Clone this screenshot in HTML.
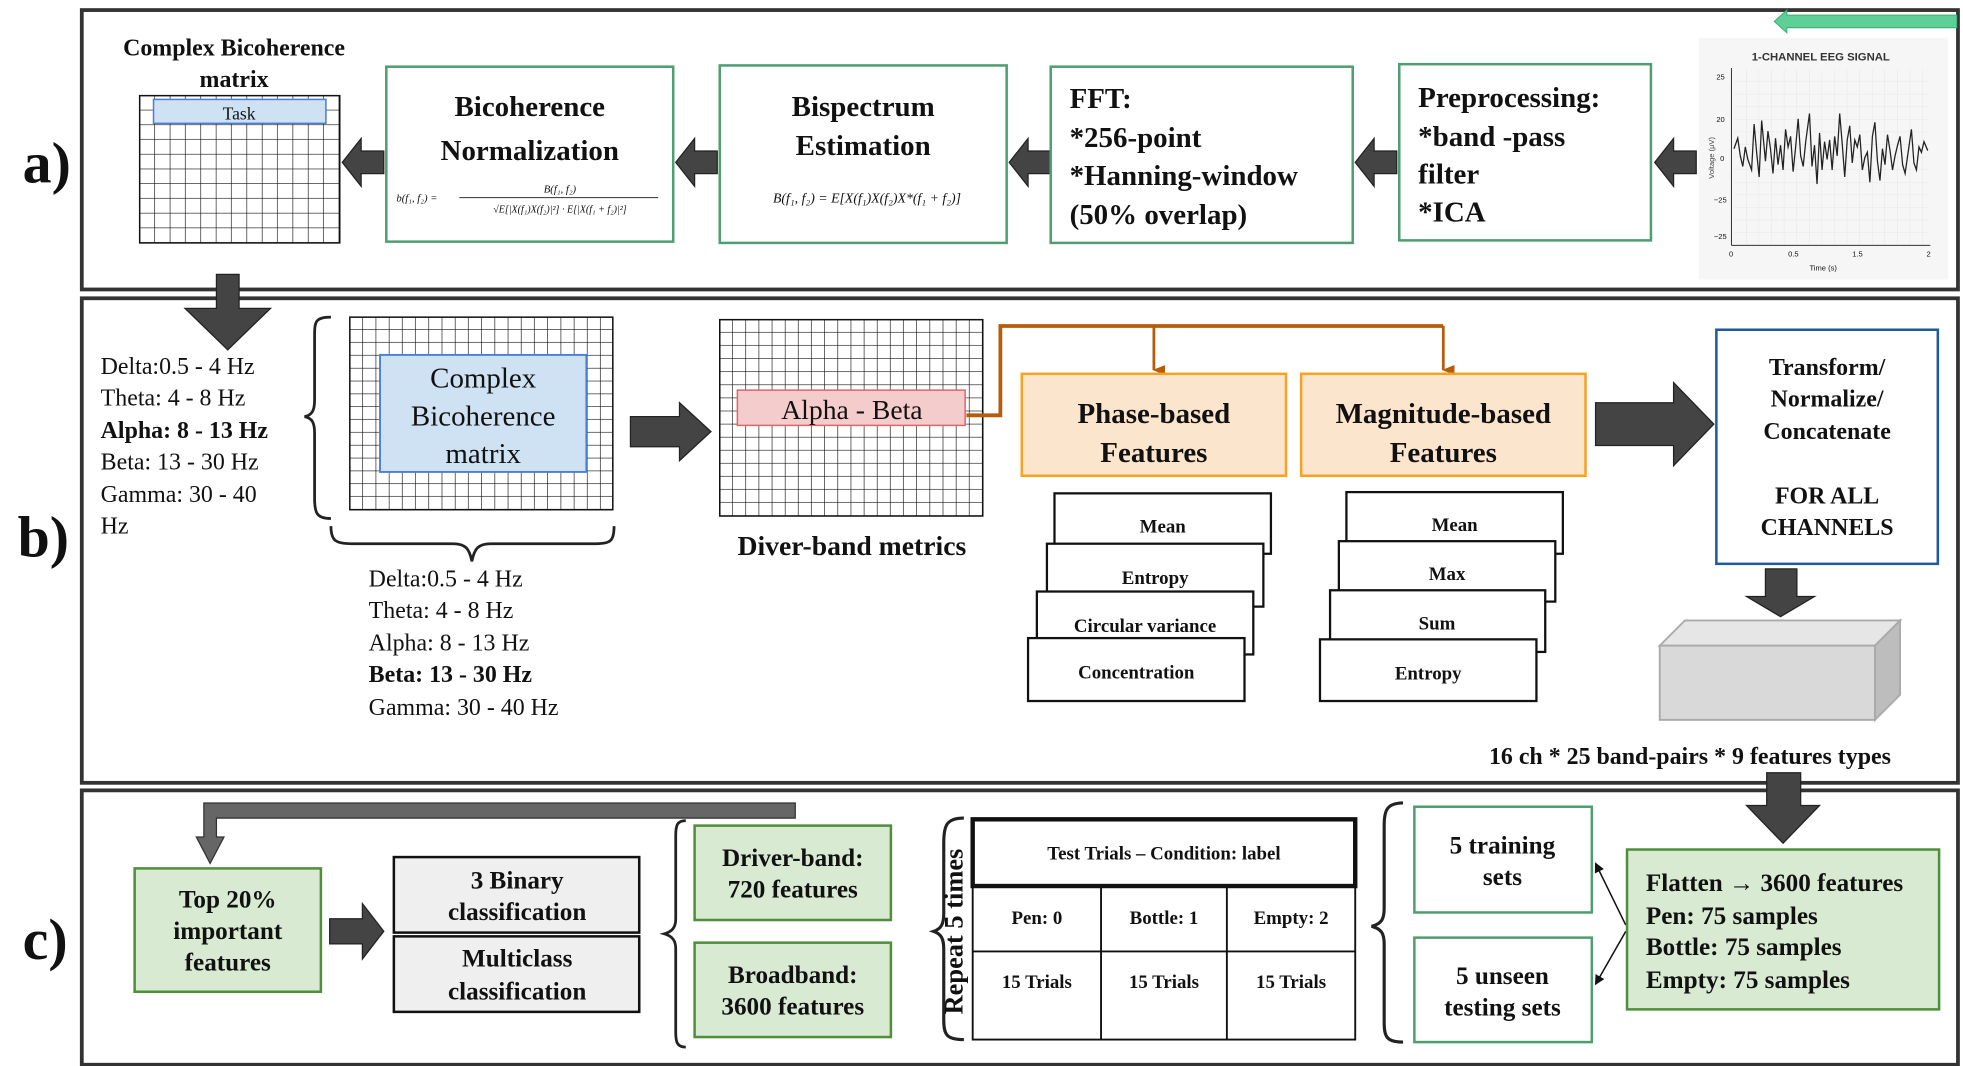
<!DOCTYPE html>
<html><head><meta charset="utf-8"><style>
html,body{margin:0;padding:0;background:#fff;width:1963px;height:1066px;overflow:hidden}
svg{display:block}
text{font-family:"Liberation Serif",serif;font-weight:bold;fill:#111}
.n, .n text{font-weight:normal}
.s, .s text{font-family:"Liberation Sans",sans-serif}
</style></head><body>
<svg width="1963" height="1066" viewBox="0 0 1560 847" preserveAspectRatio="none" xmlns="http://www.w3.org/2000/svg">
<defs>
<pattern id="g" x="111" y="76" width="12.2" height="11.7" patternUnits="userSpaceOnUse"><path d="M12.2 0V11.7M0 11.7H12.2" stroke="#111" stroke-width="1" fill="none"/></pattern>
<pattern id="g2" x="278" y="252" width="10.5" height="10.2" patternUnits="userSpaceOnUse"><path d="M10.5 0V10.2M0 10.2H10.5" stroke="#111" stroke-width="1" fill="none"/></pattern>
<pattern id="g3" x="572" y="254" width="10.45" height="10.4" patternUnits="userSpaceOnUse"><path d="M10.45 0V10.4M0 10.4H10.45" stroke="#111" stroke-width="1" fill="none"/></pattern>
<pattern id="eg" x="1378" y="55" width="10" height="10" patternUnits="userSpaceOnUse"><path d="M10 0V10M0 10H10" stroke="#e3e3e3" stroke-width="0.6" fill="none"/></pattern>
<marker id="oa" markerWidth="8" markerHeight="10" refX="4" refY="9" orient="auto" markerUnits="userSpaceOnUse"><path d="M0 0L8 0L4 10Z" fill="#b85c0a"/></marker>
<marker id="ba" markerWidth="8" markerHeight="8" refX="7" refY="4" orient="auto" markerUnits="userSpaceOnUse"><path d="M0 0L8 4L0 8Z" fill="#111"/></marker>
</defs>

<rect x="65" y="8" width="1491" height="222" fill="none" stroke="#333" stroke-width="3"/>
<rect x="65" y="237" width="1491" height="385" fill="none" stroke="#333" stroke-width="3"/>
<rect x="65" y="628" width="1491" height="218" fill="none" stroke="#333" stroke-width="3"/>
<text x="18" y="145" font-size="46">a)</text>
<text x="14" y="442" font-size="46">b)</text>
<text x="18" y="762" font-size="46">c)</text>

<text x="186" y="44" font-size="19" text-anchor="middle">Complex Bicoherence</text>
<text x="186" y="69" font-size="19" text-anchor="middle">matrix</text>
<rect x="111" y="76" width="159" height="117" fill="url(#g)" stroke="#111" stroke-width="1.2"/>
<rect x="122" y="79" width="137" height="19" fill="#cfe2f3" stroke="#4a7fd6" stroke-width="1.2"/>
<text x="190" y="95" font-size="14" class="n" text-anchor="middle">Task</text>

<g fill="#444" stroke="#222" stroke-width="1">
<path d="M305 120H287V110L272 129L287 148V138H305Z"/>
<path d="M570 120H552V110L537 129L552 148V138H570Z"/>
<path d="M835 120H817V110L802 129L817 148V138H835Z"/>
<path d="M1110 120H1092V110L1077 129L1092 148V138H1110Z"/>
<path d="M1348 120H1330V110L1315 129L1330 148V138H1348Z"/>
</g>
<path d="M1555 12H1420V8L1410 17L1420 26V22H1555Z" fill="#5ecf96" stroke="#3fae78" stroke-width="0.8"/>

<rect x="307" y="53" width="228" height="139" fill="#fff" stroke="#4f9e72" stroke-width="2"/>
<text x="421" y="92" font-size="23" text-anchor="middle">Bicoherence</text>
<text x="421" y="127" font-size="23" text-anchor="middle">Normalization</text>
<text x="315" y="160" font-size="8.5" class="n" font-style="italic">b(f₁, f₂) =</text>
<text x="445" y="153" font-size="8.5" class="n" font-style="italic" text-anchor="middle">B(f₁, f₂)</text>
<line x1="365" y1="157" x2="523" y2="157" stroke="#333" stroke-width="0.8"/>
<text x="445" y="169" font-size="8" class="n" font-style="italic" text-anchor="middle">√E[|X(f₁)X(f₂)|²] · E[|X(f₁ + f₂)|²]</text>

<rect x="572" y="52" width="228" height="141" fill="#fff" stroke="#4f9e72" stroke-width="2"/>
<text x="686" y="92" font-size="23" text-anchor="middle">Bispectrum</text>
<text x="686" y="123" font-size="23" text-anchor="middle">Estimation</text>
<text x="689" y="161" font-size="11" class="n" font-style="italic" text-anchor="middle">B(f₁, f₂) = E[X(f₁)X(f₂)X*(f₁ + f₂)]</text>

<rect x="835" y="53" width="240" height="140" fill="#fff" stroke="#4f9e72" stroke-width="2"/>
<g font-size="23"><text x="850" y="86">FFT:</text><text x="850" y="117">*256-point</text><text x="850" y="147">*Hanning-window</text><text x="850" y="178">(50% overlap)</text></g>

<rect x="1112" y="51" width="200" height="140" fill="#fff" stroke="#4f9e72" stroke-width="2"/>
<g font-size="23"><text x="1127" y="85">Preprocessing:</text><text x="1127" y="116">*band -pass</text><text x="1127" y="146">filter</text><text x="1127" y="176">*ICA</text></g>

<rect x="1350" y="30" width="198" height="192" fill="#f6f6f6"/>
<rect x="1378" y="55" width="155" height="140" fill="url(#eg)"/>
<text x="1447" y="48" font-size="9" class="s" text-anchor="middle" style="fill:#333">1-CHANNEL EEG SIGNAL</text>
<line x1="1376" y1="54" x2="1376" y2="195" stroke="#333" stroke-width="0.8"/>
<line x1="1376" y1="195" x2="1534" y2="195" stroke="#333" stroke-width="0.8"/>
<g font-size="6" class="s n" style="fill:#444"><text x="1364" y="63">25</text><text x="1364" y="97">20</text><text x="1367" y="128">0</text><text x="1362" y="161">−25</text><text x="1362" y="190">−25</text><text x="1374" y="204">0</text><text x="1421" y="204">0.5</text><text x="1472" y="204">1.5</text><text x="1531" y="204">2</text><text x="1438" y="215">Time (s)</text></g>
<text transform="translate(1362,142) rotate(-90)" font-size="6" class="s n" style="fill:#444">Voltage (μV)</text>
<polyline fill="none" stroke="#222" stroke-width="1" transform="translate(0,-47) scale(1,1.4)" points="1378,118 1381,112 1383,122 1385,128 1387,117 1389,124 1392,130 1394,104 1396,120 1398,134 1400,102 1403,125 1405,108 1407,118 1409,132 1411,112 1413,127 1415,116 1417,130 1419,107 1421,117 1423,111 1425,131 1427,117 1429,101 1431,122 1433,128 1435,114 1438,98 1440,128 1442,116 1444,138 1446,109 1448,130 1450,114 1452,124 1454,113 1456,130 1458,111 1460,122 1462,98 1464,115 1466,134 1468,113 1470,105 1472,126 1474,113 1476,117 1478,110 1480,130 1482,123 1484,120 1486,137 1488,111 1490,103 1492,125 1494,136 1496,118 1498,127 1500,110 1502,119 1504,130 1506,122 1508,116 1510,111 1512,127 1514,132 1516,122 1519,107 1521,126 1523,130 1525,117 1527,120 1529,114 1532,119"/>

<path d="M172 218H190V245H215L181 278L147 245H172Z" fill="#444" stroke="#222" stroke-width="1"/>

<g font-size="19" class="n"><text x="80" y="297">Delta:0.5 - 4 Hz</text><text x="80" y="322">Theta: 4 - 8 Hz</text><text x="80" y="348" style="font-weight:bold">Alpha: 8 - 13 Hz</text><text x="80" y="373">Beta: 13 - 30 Hz</text><text x="80" y="399">Gamma: 30 - 40</text><text x="80" y="424">Hz</text></g>
<path d="M263 252C250 252 250 256 250 268V318C250 326 248 330 242 331C248 332 250 336 250 344V396C250 408 252 412 263 412" fill="none" stroke="#222" stroke-width="2.2"/>
<rect x="278" y="252" width="209" height="153" fill="url(#g2)" stroke="#111" stroke-width="1.2"/>
<rect x="302" y="282" width="164" height="93" fill="#cfe2f3" stroke="#4a7fd6" stroke-width="1.5"/>
<g font-size="23" class="n" text-anchor="middle"><text x="384" y="308">Complex</text><text x="384" y="338">Bicoherence</text><text x="384" y="368">matrix</text></g>
<path d="M263 418C263 430 267 432 280 432H360C370 432 373 436 375 446C377 436 380 432 390 432H474C485 432 488 430 488 418" fill="none" stroke="#222" stroke-width="2.2"/>
<g font-size="19" class="n"><text x="293" y="466">Delta:0.5 - 4 Hz</text><text x="293" y="491">Theta: 4 - 8 Hz</text><text x="293" y="517">Alpha: 8 - 13 Hz</text><text x="293" y="542" style="font-weight:bold">Beta: 13 - 30 Hz</text><text x="293" y="568">Gamma: 30 - 40 Hz</text></g>

<path d="M501 331H540V320L565 343L540 366V355H501Z" fill="#444" stroke="#222" stroke-width="1"/>
<rect x="572" y="254" width="209" height="156" fill="url(#g3)" stroke="#111" stroke-width="1.2"/>
<rect x="586" y="310" width="181" height="28" fill="#f4cccc" stroke="#e06666" stroke-width="1.2"/>
<text x="677" y="333" font-size="22" class="n" text-anchor="middle">Alpha - Beta</text>
<text x="677" y="441" font-size="22" text-anchor="middle">Diver-band metrics</text>

<path d="M768 330H795V259H1147" fill="none" stroke="#b85c0a" stroke-width="3"/>
<line x1="917" y1="259" x2="917" y2="294" stroke="#b85c0a" stroke-width="2.2" marker-end="url(#oa)"/>
<line x1="1147" y1="259" x2="1147" y2="294" stroke="#b85c0a" stroke-width="2.2" marker-end="url(#oa)"/>

<rect x="812" y="297" width="210" height="81" fill="#fce5cd" stroke="#f6a323" stroke-width="2"/>
<text x="917" y="336" font-size="23" text-anchor="middle">Phase-based</text>
<text x="917" y="367" font-size="23" text-anchor="middle">Features</text>
<rect x="1034" y="297" width="226" height="81" fill="#fce5cd" stroke="#f6a323" stroke-width="2"/>
<text x="1147" y="336" font-size="23" text-anchor="middle">Magnitude-based</text>
<text x="1147" y="367" font-size="23" text-anchor="middle">Features</text>

<g fill="#fff" stroke="#111" stroke-width="1.8">
<rect x="838" y="392" width="172" height="48"/><rect x="832" y="432" width="172" height="50"/><rect x="824" y="470" width="172" height="50"/><rect x="817" y="507" width="172" height="50"/>
<rect x="1070" y="391" width="172" height="49"/><rect x="1064" y="430" width="172" height="48"/><rect x="1057" y="469" width="171" height="49"/><rect x="1049" y="508" width="172" height="49"/>
</g>
<g font-size="15" text-anchor="middle"><text x="924" y="423">Mean</text><text x="918" y="464">Entropy</text><text x="910" y="502">Circular variance</text><text x="903" y="539">Concentration</text>
<text x="1156" y="422">Mean</text><text x="1150" y="461">Max</text><text x="1142" y="500">Sum</text><text x="1135" y="540">Entropy</text></g>

<path d="M1268 320H1330V304L1362 337L1330 370V354H1268Z" fill="#444" stroke="#222" stroke-width="1"/>
<rect x="1364" y="262" width="176" height="186" fill="#fff" stroke="#1f5a9a" stroke-width="2"/>
<g font-size="19" text-anchor="middle"><text x="1452" y="298">Transform/</text><text x="1452" y="323">Normalize/</text><text x="1452" y="349">Concatenate</text><text x="1452" y="400">FOR ALL</text><text x="1452" y="425">CHANNELS</text></g>
<path d="M1403 452H1428V474H1442L1415 490L1388 474H1403Z" fill="#444" stroke="#222" stroke-width="1"/>
<path d="M1319 513L1339 493H1510L1490 513Z" fill="#e6e6e6" stroke="#aaa" stroke-width="1.5"/>
<path d="M1490 513L1510 493V552L1490 572Z" fill="#bdbdbd" stroke="#aaa" stroke-width="1.5"/>
<rect x="1319" y="513" width="171" height="59" fill="#d9d9d9" stroke="#aaa" stroke-width="1.5"/>
<text x="1343" y="607" font-size="19" text-anchor="middle">16 ch * 25 band-pairs * 9 features types</text>
<path d="M1404 614H1431V640H1446L1417 670L1388 640H1404Z" fill="#444" stroke="#222" stroke-width="1"/>

<path d="M632 638V650H172V665H178L167 686L156 665H162V638Z" fill="#666" stroke="#333" stroke-width="1"/>
<rect x="107" y="690" width="148" height="98" fill="#d9ead3" stroke="#4f8f3a" stroke-width="2"/>
<g font-size="20" text-anchor="middle"><text x="181" y="721">Top 20%</text><text x="181" y="746">important</text><text x="181" y="771">features</text></g>
<path d="M262 730H288V718L305 740L288 762V750H262Z" fill="#444" stroke="#222" stroke-width="1"/>
<rect x="313" y="681" width="195" height="60" fill="#efefef" stroke="#111" stroke-width="2"/>
<rect x="313" y="744" width="195" height="60" fill="#efefef" stroke="#111" stroke-width="2"/>
<g font-size="20" text-anchor="middle"><text x="411" y="706">3 Binary</text><text x="411" y="731">classification</text><text x="411" y="768">Multiclass</text><text x="411" y="794">classification</text></g>
<path d="M545 652C538 652 537 656 537 664V730C537 736 535 740 528 742C535 744 537 748 537 754V820C537 828 538 832 545 832" fill="none" stroke="#222" stroke-width="2.2"/>
<rect x="552" y="656" width="156" height="75" fill="#d9ead3" stroke="#4f8f3a" stroke-width="2"/>
<rect x="552" y="749" width="156" height="75" fill="#d9ead3" stroke="#4f8f3a" stroke-width="2"/>
<g font-size="20" text-anchor="middle"><text x="630" y="688">Driver-band:</text><text x="630" y="713">720 features</text><text x="630" y="781">Broadband:</text><text x="630" y="806">3600 features</text></g>
<path d="M766 650C752 650 750 656 750 670V726C750 734 748 738 742 740C748 742 750 746 750 754V810C750 822 752 826 766 826" fill="none" stroke="#222" stroke-width="2.5"/>
<text transform="translate(765,806) rotate(-90)" font-size="21">Repeat 5 times</text>
<rect x="773" y="651" width="304" height="175" fill="#fff" stroke="#111" stroke-width="1.5"/>
<rect x="773" y="651" width="304" height="53" fill="none" stroke="#111" stroke-width="3.5"/>
<line x1="773" y1="756" x2="1077" y2="756" stroke="#111" stroke-width="1.5"/>
<line x1="875" y1="704" x2="875" y2="826" stroke="#111" stroke-width="1.5"/>
<line x1="975" y1="704" x2="975" y2="826" stroke="#111" stroke-width="1.5"/>
<g font-size="15" text-anchor="middle"><text x="925" y="683">Test Trials – Condition: label</text>
<text x="824" y="734">Pen: 0</text><text x="925" y="734">Bottle: 1</text><text x="1026" y="734">Empty: 2</text>
<text x="824" y="785">15 Trials</text><text x="925" y="785">15 Trials</text><text x="1026" y="785">15 Trials</text></g>
<path d="M1115 638C1102 638 1100 644 1100 656V722C1100 730 1098 734 1090 736C1098 738 1100 742 1100 750V812C1100 824 1102 828 1115 828" fill="none" stroke="#222" stroke-width="2.5"/>
<rect x="1124" y="641" width="141" height="84" fill="#fff" stroke="#4f9e72" stroke-width="2"/>
<rect x="1124" y="745" width="141" height="83" fill="#fff" stroke="#4f9e72" stroke-width="2"/>
<g font-size="20" text-anchor="middle"><text x="1194" y="678">5 training</text><text x="1194" y="703">sets</text><text x="1194" y="782">5 unseen</text><text x="1194" y="807">testing sets</text></g>
<line x1="1292" y1="735" x2="1268" y2="686" stroke="#111" stroke-width="1.2" marker-end="url(#ba)"/>
<line x1="1292" y1="740" x2="1268" y2="782" stroke="#111" stroke-width="1.2" marker-end="url(#ba)"/>
<rect x="1293" y="675" width="248" height="127" fill="#d9ead3" stroke="#4f8f3a" stroke-width="2"/>
<g font-size="20"><text x="1308" y="708">Flatten → 3600 features</text><text x="1308" y="734">Pen: 75 samples</text><text x="1308" y="759">Bottle: 75 samples</text><text x="1308" y="785">Empty: 75 samples</text></g>
</svg>
</body></html>
